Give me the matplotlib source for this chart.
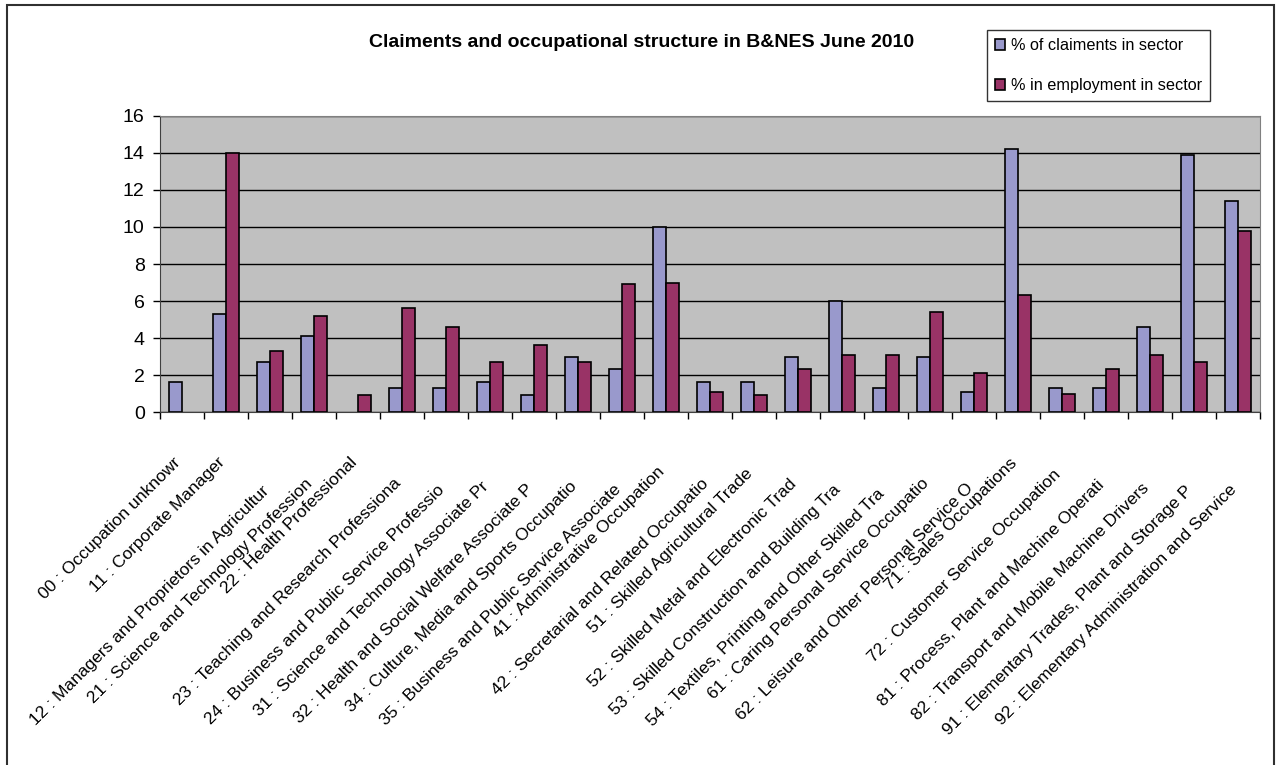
import matplotlib.pyplot as plt
import matplotlib.transforms as mtransforms
from matplotlib.patches import Rectangle, Patch
import numpy as np

plt.rcParams["font.family"] = ["Liberation Sans", "DejaVu Sans"]

labels = [
    "00 : Occupation unknowr",
    "11 : Corporate Manager",
    "12 : Managers and Proprietors in Agricultur",
    "21 : Science and Technology Profession",
    "22 : Health Professional",
    "23 : Teaching and Research Professiona",
    "24 : Business and Public Service Professio",
    "31 : Science and Technology Associate Pr",
    "32 : Health and Social Welfare Associate P",
    "34 : Culture, Media and Sports Occupatio",
    "35 : Business and Public Service Associate",
    "41 : Administrative Occupation",
    "42 : Secretarial and Related Occupatio",
    "51 : Skilled Agricultural Trade",
    "52 : Skilled Metal and Electronic Trad",
    "53 : Skilled Construction and Building Tra",
    "54 : Textiles, Printing and Other Skilled Tra",
    "61 : Caring Personal Service Occupatio",
    "62 : Leisure and Other Personal Service O",
    "71 : Sales Occupations",
    "72 : Customer Service Occupation",
    "81 : Process, Plant and Machine Operati",
    "82 : Transport and Mobile Machine Drivers",
    "91 : Elementary Trades, Plant and Storage P",
    "92 : Elementary Administration and Service",
]
claimants = [1.6, 5.3, 2.7, 4.1, 0.0, 1.3, 1.3, 1.6, 0.9, 3.0, 2.3, 10.0, 1.6,
             1.6, 3.0, 6.0, 1.3, 3.0, 1.1, 14.2, 1.3, 1.3, 4.6, 13.9, 11.4]
employment = [0.0, 14.0, 3.3, 5.2, 0.9, 5.6, 4.6, 2.7, 3.6, 2.7, 6.9, 7.0, 1.1,
              0.9, 2.3, 3.1, 3.1, 5.4, 2.1, 6.3, 1.0, 2.3, 3.1, 2.7, 9.8]
series_names = ["% of claiments in sector", "% in employment in sector"]
colors = ["#9999CC", "#993366"]

fig = plt.figure(figsize=(12.79, 7.65), dpi=100)
ax = fig.add_axes([0.1251, 0.4614, 0.8600, 0.3870])

x = np.arange(len(labels))
w = 0.3
for off, vals, col in [(-w / 2, claimants, colors[0]), (w / 2, employment, colors[1])]:
    bars = ax.bar(x + off, vals, w, color=col, edgecolor="black",
                  linewidth=1.2, zorder=3)
    # empty categories get no outline
    for b, v in zip(bars, vals):
        if v == 0:
            b.set_linewidth(0)

ax.set_facecolor("#C0C0C0")
ax.set_xlim(-0.5, len(labels) - 0.5)
ax.set_ylim(0, 16)
ax.set_yticks(range(0, 17, 2))
ax.yaxis.grid(True, color="black", linewidth=1)
ax.set_axisbelow(True)
for side in ["top", "right"]:
    ax.spines[side].set_color("#808080")
ax.spines["left"].set_color("#404040")
ax.spines["bottom"].set_color("#404040")
ax.tick_params(axis="y", labelsize=14, length=5, width=1, pad=6)

# category ticks sit between the groups
ax.set_xticks(np.arange(-0.5, len(labels), 1.0))
ax.set_xticklabels([])
ax.tick_params(axis="x", length=5, width=1)

# rotated category names, pushed further down when the text is long
base = mtransforms.blended_transform_factory(ax.transData, ax.transAxes)
for i, lab in enumerate(labels):
    drop = 43 + 1.5 * max(0, len(lab) - 24)
    tr = mtransforms.offset_copy(base, fig=fig, x=-9 * 0.72, y=-drop * 0.72,
                                 units="points")
    ax.text(i, 0, lab, transform=tr, rotation=45, rotation_mode="anchor",
            ha="right", va="top", fontsize=12.5)

fig.text(0.502, 0.944, "Claiments and occupational structure in B&NES June 2010",
         ha="center", va="center", fontsize=14, fontweight="bold")

handles = [Patch(facecolor=c, edgecolor="black", linewidth=1.2, label=n)
           for c, n in zip(colors, series_names)]
leg = fig.legend(handles=handles, loc="upper left",
                 bbox_to_anchor=(0.7717, 0.9608), fontsize=11.7,
                 frameon=True, fancybox=False, edgecolor="black",
                 handlelength=0.6, handleheight=0.6, handletextpad=0.35,
                 borderpad=0.5, labelspacing=1.55, borderaxespad=0)
leg.get_frame().set_linewidth(1)

# outer chart border
fig.patches.append(Rectangle((7 / 1279, -0.05), 1267 / 1279, 0.05 + 760 / 765,
                             transform=fig.transFigure, fill=False,
                             edgecolor="#303030", linewidth=1.5))

fig.savefig("out.png", dpi=100)
